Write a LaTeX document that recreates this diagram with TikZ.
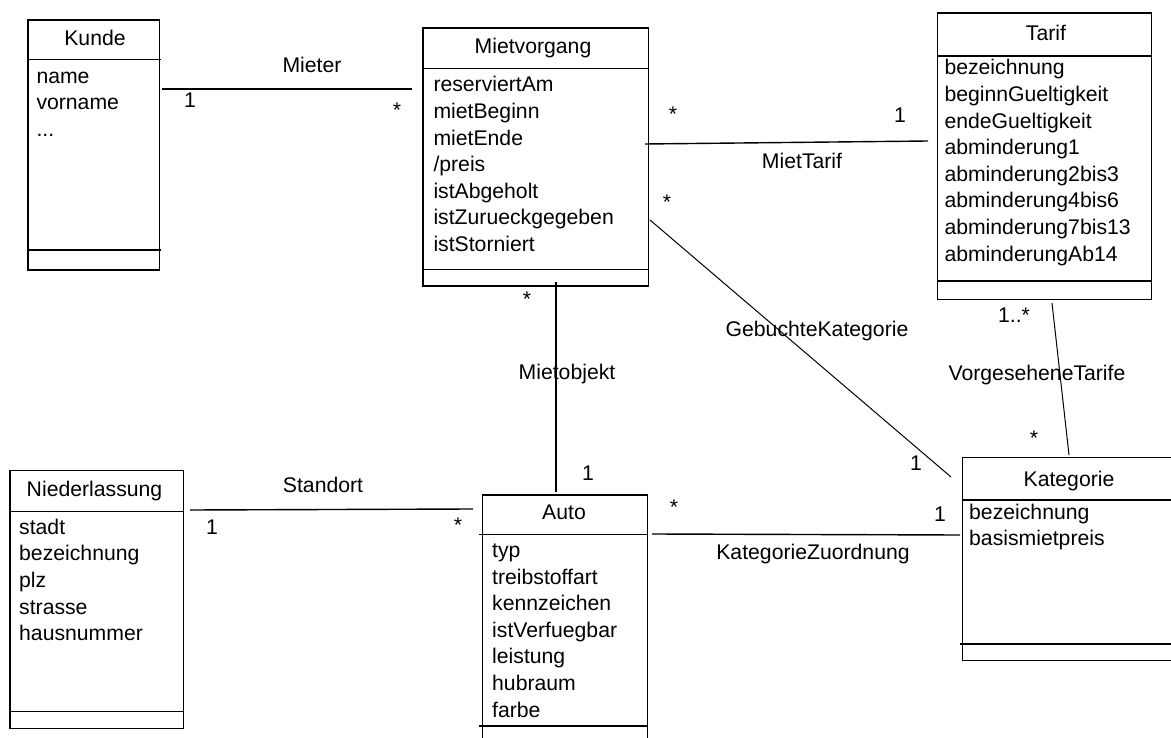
\documentclass[tikz,border=0pt]{standalone}
\usepackage{fontspec}
\setmainfont{Liberation Sans}
\begin{document}
\begin{tikzpicture}[x=1pt,y=-1pt,
  classbox/.style={draw, line width=1.3pt, rectangle, inner sep=0pt, anchor=north west},
  divider/.style={line width=1.3pt},
  txt/.style={inner sep=0pt, font=\fontsize{21.2}{26.6}\selectfont},
  attr/.style={txt, anchor=base west},
  ttl/.style={txt, anchor=base},
  lbl/.style={txt, anchor=base},
  thinassoc/.style={line width=1pt},
  midassoc/.style={line width=1.4pt},
  thickassoc/.style={line width=2.2pt}]
\clip (0,0) rectangle (1171,738);
\fill[white] (0,0) rectangle (1171,738);

% ---------- class boxes ----------
\node[classbox, minimum width=131.4pt, minimum height=250pt] (kunde) at (27.3,19.3) {};
\draw[divider] (kunde.west |- 0,59.3) -- (161,59.3);
\draw[divider] (kunde.west |- 0,250) -- (161,250);
\node[ttl] (kunde-t) at (95,46) {Kunde};
\node[attr] (kunde-0) at (36.3,83.3) {name};
\node[attr] (kunde-1) at (36.3,109.9) {vorname};
\node[attr] (kunde-2) at (36.3,136.5) {...};

\node[classbox, minimum width=225.4pt, minimum height=258pt] (mv) at (422.3,27.3) {};
\draw[divider] (mv.west |- 0,68.7) -- (mv.east |- 0,68.7);
\draw[divider] (mv.west |- 0,269.3) -- (mv.east |- 0,269.3);
\node[ttl] (mv-t) at (533,54) {Mietvorgang};
\foreach \a [count=\i from 0] in {reserviertAm, mietBeginn, mietEnde, /preis, istAbgeholt, istZurueckgegeben, istStorniert}
  \node[attr] (mv-\i) at (433.3,92+26.6*\i) {\a};

\node[classbox, minimum width=213.7pt, minimum height=286.7pt] (tarif) at (937,12.3) {};
\draw[divider] (tarif.west |- 0,56) -- (tarif.east |- 0,56);
\draw[divider] (tarif.west |- 0,281) -- (tarif.east |- 0,281);
\node[ttl] (tarif-t) at (1046,41) {Tarif};
\foreach \a [count=\i from 0] in {bezeichnung, beginnGueltigkeit, endeGueltigkeit, abminderung1, abminderung2bis3, abminderung4bis6, abminderung7bis13, abminderungAb14}
  \node[attr] (tarif-\i) at (944.3,75+26.6*\i) {\a};

\node[classbox, minimum width=173.4pt, minimum height=258pt] (nl) at (9.3,470) {};
\draw[divider] (nl.west |- 0,511.3) -- (nl.east |- 0,511.3);
\draw[divider] (nl.west |- 0,711.3) -- (184,711.3);
\node[ttl] (nl-t) at (94.5,496) {Niederlassung};
\foreach \a [count=\i from 0] in {stadt, bezeichnung, plz, strasse, hausnummer}
  \node[attr] (nl-\i) at (19,534.3+26.6*\i) {\a};

\node[classbox, minimum width=165pt, minimum height=255pt] (auto) at (482,494.3) {};
\draw[divider] (479,534.3) -- (auto.east |- 0,534.3);
\draw[divider] (479,726) -- (auto.east |- 0,726);
\node[ttl] (auto-t) at (564,519.5) {Auto};
\foreach \a [count=\i from 0] in {typ, treibstoffart, kennzeichen, istVerfuegbar, leistung, hubraum, farbe}
  \node[attr] (auto-\i) at (492,557.4+26.6*\i) {\a};

\node[classbox, minimum width=230pt, minimum height=203pt] (kat) at (962,457) {};
\draw[divider] (kat.west |- 0,500) -- (kat.east |- 0,500);
\draw[divider] (960,644) -- (kat.east |- 0,644);
\node[ttl] (kat-t) at (1069,486) {Kategorie};
\node[attr] (kat-0) at (969,519) {bezeichnung};
\node[attr] (kat-1) at (969,545.6) {basismietpreis};

% ---------- association ends ----------
\coordinate (mieter-a) at (162,89);   \coordinate (mieter-b) at (412,89);
\coordinate (tarif-a)  at (645,144);  \coordinate (tarif-b)  at (928,141);
\coordinate (gk-a)     at (650,220);  \coordinate (gk-b)     at (951,477);
\coordinate (vt-a)     at (1052,303); \coordinate (vt-b)     at (1069,455);
\coordinate (mo-a)     at (556,282);  \coordinate (mo-b)     at (556,492);
\coordinate (so-a)     at (190,510);  \coordinate (so-b)     at (473,509);
\coordinate (kz-a)     at (652,534);  \coordinate (kz-b)     at (960,535);

% ---------- associations ----------
\draw[thickassoc] (mieter-a) -- (mieter-b);
\node[lbl] (mieter-l) at (312,72.3) {Mieter};
\node[lbl] (mieter-m1) at (190,107.7) {1};
\node[lbl] (mieter-m2) at (397,118) {*};

\draw[midassoc] (tarif-a) -- (tarif-b);
\node[lbl] (tarif-l) at (802,168.3) {MietTarif};
\node[lbl] (tarif-m1) at (673,122) {*};
\node[lbl] (tarif-m2) at (900,122.7) {1};

\draw[thinassoc] (gk-a) -- (gk-b);
\node[lbl] (gk-l) at (817,337) {GebuchteKategorie};
\node[lbl] (gk-m1) at (667,210) {*};
\node[lbl] (gk-m2) at (916,470.7) {1};

\draw[thinassoc] (vt-a) -- (vt-b);
\node[lbl] (vt-l) at (1037,380) {VorgeseheneTarife};
\node[lbl] (vt-m1) at (1014,322.3) {1..*};
\node[lbl] (vt-m2) at (1034,445) {*};

\draw[thickassoc] (mo-a) -- (mo-b);
\node[lbl] (mo-l) at (567,379) {Mietobjekt};
\node[lbl] (mo-m1) at (527,307) {*};
\node[lbl] (mo-m2) at (588,480) {1};

\draw[midassoc] (so-a) -- (so-b);
\node[lbl] (so-l) at (323,492.3) {Standort};
\node[lbl] (so-m1) at (212,534.3) {1};
\node[lbl] (so-m2) at (458,532.7) {*};

\draw[midassoc] (kz-a) -- (kz-b);
\node[lbl] (kz-l) at (813,559.3) {KategorieZuordnung};
\node[lbl] (kz-m1) at (674,514) {*};
\node[lbl] (kz-m2) at (940,521) {1};
\end{tikzpicture}
\end{document}
